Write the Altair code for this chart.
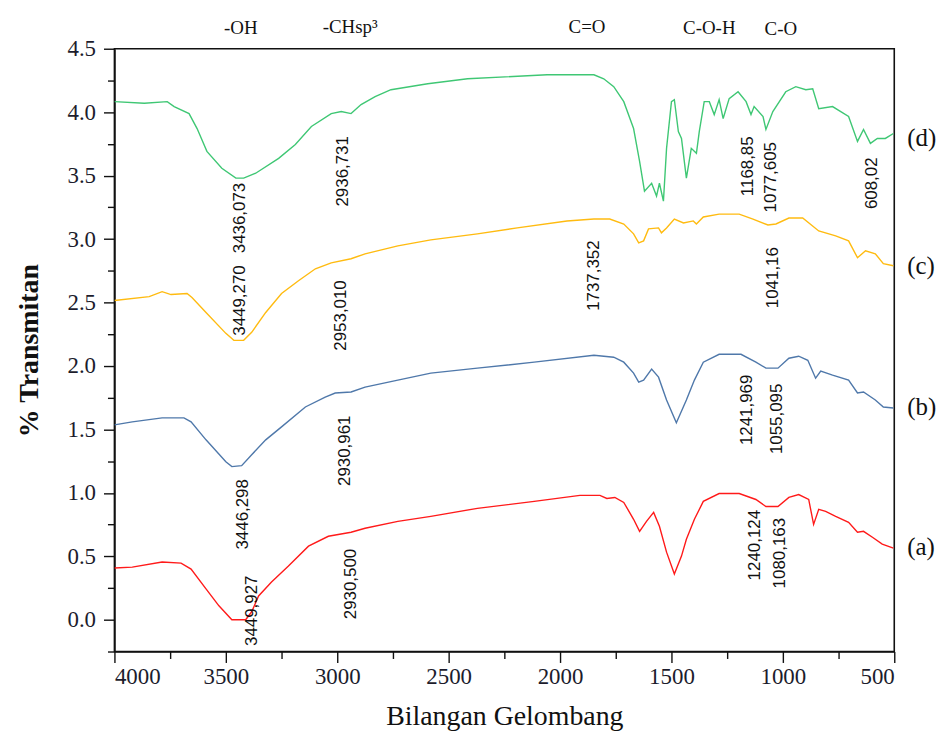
import altair as alt
import pandas as pd

# ---------------- data ----------------
# (a) red
a_wn = [4000, 3920, 3786, 3701, 3656, 3589, 3531, 3473, 3411, 3384, 3353, 3295, 3219, 3129, 3040, 2938,
        2875, 2728, 2580, 2371, 2116, 1911, 1821, 1790, 1754, 1714, 1670, 1643, 1612, 1580, 1554, 1522,
        1487, 1455, 1433, 1397, 1357, 1286, 1196, 1121, 1076, 1022, 973, 929, 884, 862, 839, 808, 763,
        705, 665, 638, 598, 554, 504]
a_t = [0.408, 0.415, 0.455, 0.447, 0.400, 0.243, 0.110, 0.000, 0.000, 0.063, 0.188, 0.298, 0.423, 0.580,
       0.658, 0.690, 0.721, 0.776, 0.815, 0.878, 0.933, 0.980, 0.980, 0.956, 0.964, 0.925, 0.792, 0.697,
       0.776, 0.846, 0.737, 0.533, 0.361, 0.502, 0.635, 0.792, 0.933, 0.995, 0.995, 0.948, 0.893, 0.893,
       0.964, 0.987, 0.948, 0.752, 0.870, 0.854, 0.815, 0.768, 0.690, 0.697, 0.650, 0.596, 0.564]

# (b) blue
b_wn = [4000, 3920, 3786, 3688, 3656, 3589, 3500, 3473, 3429, 3384, 3321, 3250, 3143, 3054, 3009, 2938,
        2875, 2728, 2580, 2371, 2116, 1848, 1759, 1714, 1670, 1647, 1625, 1589, 1558, 1522, 1478, 1433,
        1397, 1357, 1286, 1188, 1121, 1076, 1022, 973, 929, 888, 853, 830, 777, 705, 665, 638, 585, 549, 504]
b_t = [1.536, 1.560, 1.591, 1.591, 1.560, 1.418, 1.246, 1.207, 1.215, 1.301, 1.418, 1.520, 1.677, 1.755,
       1.787, 1.795, 1.834, 1.889, 1.944, 1.983, 2.030, 2.085, 2.069, 2.030, 1.944, 1.873, 1.889, 1.975,
       1.912, 1.732, 1.552, 1.732, 1.889, 2.030, 2.092, 2.092, 2.030, 1.983, 1.983, 2.061, 2.077, 2.045,
       1.904, 1.959, 1.928, 1.889, 1.787, 1.795, 1.732, 1.677, 1.669]

# (c) yellow
c_wn = [4000, 3844, 3786, 3746, 3674, 3652, 3589, 3500, 3464, 3420, 3384, 3321, 3250, 3174, 3098, 3027,
        2938, 2875, 2728, 2580, 2371, 2192, 1969, 1848, 1777, 1714, 1670, 1647, 1625, 1603, 1558, 1545,
        1522, 1487, 1446, 1402, 1388, 1357, 1286, 1196, 1134, 1067, 1031, 973, 911, 839, 763, 705, 665,
        629, 585, 549, 504]
c_t = [2.516, 2.547, 2.586, 2.563, 2.571, 2.540, 2.422, 2.257, 2.202, 2.202, 2.265, 2.422, 2.571, 2.672,
       2.766, 2.813, 2.845, 2.884, 2.947, 2.994, 3.041, 3.088, 3.143, 3.158, 3.158, 3.119, 3.041, 2.970,
       2.986, 3.080, 3.088, 3.049, 3.088, 3.158, 3.127, 3.143, 3.119, 3.174, 3.197, 3.197, 3.158, 3.111,
       3.119, 3.166, 3.166, 3.064, 3.025, 2.986, 2.853, 2.908, 2.884, 2.806, 2.790]

# (d) green
d_wn = [4000, 3866, 3763, 3732, 3665, 3629, 3585, 3518, 3455, 3420, 3366, 3263, 3188, 3116, 3027, 2982,
        2938, 2893, 2830, 2759, 2594, 2415, 2058, 1848, 1804, 1759, 1714, 1670, 1643, 1621, 1589, 1567,
        1554, 1536, 1522, 1500, 1487, 1469, 1455, 1433, 1411, 1388, 1375, 1353, 1330, 1308, 1286, 1268,
        1241, 1201, 1165, 1143, 1129, 1089, 1076, 1045, 987, 942, 897, 866, 839, 777, 705, 665, 638, 607,
        576, 540, 504]
d_t = [4.083, 4.070, 4.083, 4.044, 3.989, 3.871, 3.691, 3.558, 3.480, 3.480, 3.519, 3.636, 3.746, 3.887,
       3.989, 4.005, 3.989, 4.060, 4.122, 4.177, 4.224, 4.263, 4.295, 4.295, 4.263, 4.201, 4.083, 3.871,
       3.613, 3.378, 3.440, 3.339, 3.440, 3.299, 3.715, 4.083, 4.099, 3.848, 3.793, 3.480, 3.715, 3.676,
       3.848, 4.083, 4.083, 3.981, 4.099, 3.950, 4.107, 4.161, 4.083, 3.981, 4.044, 3.966, 3.864, 4.005,
       4.161, 4.201, 4.177, 4.185, 4.028, 4.044, 3.966, 3.770, 3.864, 3.754, 3.793, 3.793, 3.832]

series_names = ["a", "b", "c", "d"]
series_colors = ["#ff1a1a", "#4f78aa", "#ffbb10", "#3fc774"]

# peak labels (rotated)
peak_text = ["3436,073", "2936,731", "3449,270", "2953,010", "1737,352", "1041,16", "1168,85",
             "1077,605", "608,02", "3446,298", "2930,961", "1241,969", "1055,095", "3449,927",
             "2930,500", "1240,124", "1080,163"]
peak_wn = [3437, 2973, 3437, 2982, 1848, 1045, 1156, 1054, 598, 3424, 2964, 1161, 1027, 3384,
           2937, 1125, 1013]
peak_t = [3.166, 3.534, 2.516, 2.398, 2.712, 2.696, 3.574, 3.487, 3.440, 0.831, 1.332, 1.654,
          1.583, 0.071, 0.282, 0.588, 0.525]

# functional-group labels above the plot
group_text = ["-OH", "-CHsp\u00b3", "C=O", "C-O-H", "C-O"]
group_wn = [3433, 2942, 1879, 1330, 1009]
group_t = [4.66, 4.67, 4.67, 4.66, 4.655]

# curve labels at the right
curve_text = ["(d)", "(c)", "(b)", "(a)"]
curve_wn = [442, 442, 442, 442]
curve_t = [3.793, 2.790, 1.677, 0.572]

x_major = list(range(500, 4001, 500))
x_minor = list(range(750, 4000, 500))
y_major = [round(0.5 * i, 2) for i in range(10)]
y_minor = [round(-0.25 + 0.5 * i, 2) for i in range(10)]

# ---------------- build tables ----------------
rows = []
for name, wn, tv in zip(series_names, [a_wn, b_wn, c_wn, d_wn], [a_t, b_t, c_t, d_t]):
    for w, v in zip(wn, tv):
        rows.append({"series": name, "wn": w, "t": v})
df = pd.DataFrame(rows)
peaks = pd.DataFrame({"wn": peak_wn, "t": peak_t, "text": peak_text})
groups = pd.DataFrame({"wn": group_wn, "t": group_t, "text": group_text})
curves = pd.DataFrame({"wn": curve_wn, "t": curve_t, "text": curve_text})
minor_df = pd.DataFrame({"wn": [x_minor[0]], "t": [y_minor[1]]})

xs = alt.Scale(domain=[500, 4000], reverse=True, nice=False, zero=False)
ys = alt.Scale(domain=[-0.25, 4.5], nice=False, zero=False)

SERIF = "Liberation Serif"
LABEL_COLOR = "#1c1c2c"

lines = alt.Chart(df).mark_line(strokeWidth=1.4, clip=True).encode(
    x=alt.X("wn:Q", scale=xs, axis=alt.Axis(
        values=x_major, format="d", tickSize=11, orient="bottom", grid=False,
        labelFont=SERIF, labelFontSize=23, labelColor=LABEL_COLOR, labelPadding=3,
        title="Bilangan Gelombang", titleFont=SERIF, titleFontSize=28, titleFontWeight="normal",
        titleColor="#111", titlePadding=14)),
    y=alt.Y("t:Q", scale=ys, axis=alt.Axis(
        values=y_major, format=".1f", tickSize=11, orient="left", grid=False,
        labelFont=SERIF, labelFontSize=23, labelColor=LABEL_COLOR, labelPadding=8,
        title="% Transmitan", titleFont=SERIF, titleFontSize=28, titleFontWeight="bold",
        titleColor="#111", titlePadding=24)),
    color=alt.Color("series:N", scale=alt.Scale(domain=series_names, range=series_colors), legend=None),
    detail="series:N",
    order="wn:Q",
)

minor_layer = alt.Chart(minor_df).mark_point(opacity=0).encode(
    x=alt.X("wn:Q", scale=xs, axis=alt.Axis(values=x_minor, tickSize=7, labels=False, domain=False,
                                            title=None, orient="bottom", grid=False)),
    y=alt.Y("t:Q", scale=ys, axis=alt.Axis(values=y_minor, tickSize=7, labels=False, domain=False,
                                           title=None, orient="left", grid=False)),
)

peak_layer = alt.Chart(peaks).mark_text(
    angle=270, align="center", baseline="middle", font="Liberation Sans", fontSize=17, color="#111"
).encode(x=alt.X("wn:Q", scale=xs, axis=None), y=alt.Y("t:Q", scale=ys, axis=None), text="text:N")

group_layer = alt.Chart(groups).mark_text(
    align="center", baseline="middle", font=SERIF, fontSize=19, color="#111"
).encode(x=alt.X("wn:Q", scale=xs, axis=None), y=alt.Y("t:Q", scale=ys, axis=None), text="text:N")

curve_layer = alt.Chart(curves).mark_text(
    align="left", baseline="middle", font=SERIF, fontSize=25, color="#111"
).encode(x=alt.X("wn:Q", scale=xs, axis=None), y=alt.Y("t:Q", scale=ys, axis=None), text="text:N")

chart = alt.layer(lines, minor_layer, peak_layer, group_layer, curve_layer).resolve_axis(
    x="independent", y="independent"
).properties(
    width=784,
    height=606,
    autosize=alt.AutoSizeParams(type="none"),
    padding={"left": 107, "top": 39, "right": 50, "bottom": 85},
    background="white",
).configure_view(
    stroke="#111", strokeWidth=1.6
).configure_axis(
    domainColor="#111", domainWidth=1.6, tickColor="#111", tickWidth=1.4,
)

chart.save("out.html", embed_options={"renderer": "svg", "actions": False})
